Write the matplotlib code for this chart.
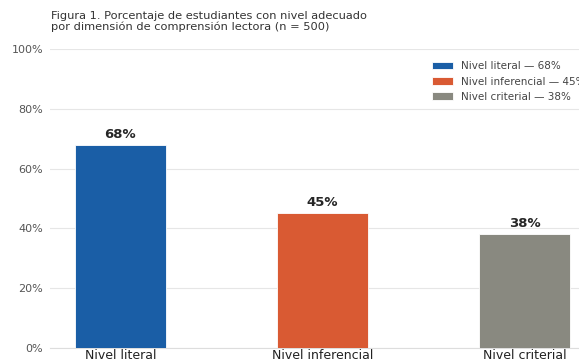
import matplotlib
matplotlib.use("Agg")
import matplotlib.pyplot as plt

BLUE = "#1A5EA6"
ORANGE = "#D95A33"
GRAY = "#898980"

categories = ["Nivel literal", "Nivel inferencial", "Nivel criterial"]
values = [68, 45, 38]
colors = [BLUE, ORANGE, GRAY]
yticks = [0, 20, 40, 60, 80, 100]
ytick_labels = ["0%", "20%", "40%", "60%", "80%", "100%"]

fig = plt.figure(figsize=(5.79, 3.64), dpi=100)
fig.patch.set_facecolor("white")
ax = fig.add_axes([50 / 579, 16 / 364, 545 / 579, 299 / 364])

x = range(len(categories))
bars = ax.bar(x, values, width=0.45, color=colors, edgecolor="white", linewidth=0.6, zorder=3,
              label=[f"{c} — {v}%" for c, v in zip(categories, values)])

for b, v in zip(bars, values):
    ax.annotate(f"{v}%", (b.get_x() + b.get_width() / 2, v), xytext=(0, 3),
                textcoords="offset points", ha="center", va="bottom",
                fontsize=9.5, fontweight="bold", color="#262626")

ax.set_ylim(0, 100)
ax.set_yticks(yticks)
ax.set_yticklabels(ytick_labels)
ax.set_xticks(list(x))
ax.set_xticklabels(categories, fontsize=9, color="#222222")
ax.tick_params(axis="y", length=0, labelsize=8, colors="#555555", pad=5)
ax.tick_params(axis="x", length=0, pad=1)
ax.grid(axis="y", color="#e6e6e6", linewidth=0.8, zorder=0)
for s in ["top", "right", "left"]:
    ax.spines[s].set_visible(False)
ax.spines["bottom"].set_color("#dddddd")

ax.legend(loc="upper right", fontsize=7.5, frameon=False, handlelength=2.0,
          handleheight=0.7, labelcolor="#444444", bbox_to_anchor=(1.0, 0.99))

fig.text(51 / 579, 1 - 11 / 364,
         "Figura 1. Porcentaje de estudiantes con nivel adecuado\npor dimensión de comprensión lectora (n = 500)",
         ha="left", va="top", fontsize=8.2, color="#333333", linespacing=1.1)

fig.savefig("out.png", dpi=100, facecolor="white")
